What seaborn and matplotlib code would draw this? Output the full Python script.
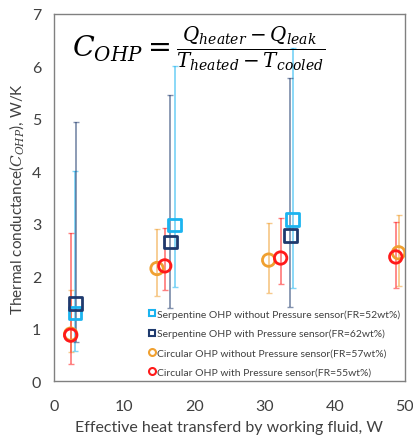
import pandas as pd
import matplotlib
matplotlib.use("Agg")
import matplotlib.pyplot as plt
import seaborn as sns

# ------------------------- DATA ------------------------- #
series_names = [
    "Serpentine OHP without Pressure sensor(FR=52wt%)",
    "Serpentine OHP with Pressure sensor(FR=62wt%)",
    "Circular OHP without Pressure sensor(FR=57wt%)",
    "Circular OHP with Pressure sensor(FR=55wt%)",
]
colors = ["#1BB4F0", "#1F3A6E", "#F0A030", "#FF1A1A"]
markers = ["s", "s", "o", "o"]

serp_wo_x = [3.0, 17.2, 34.0]
serp_wo_y = [1.30, 2.98, 3.08]
serp_wo_lo = [0.58, 1.80, 1.77]
serp_wo_hi = [4.00, 6.00, 6.35]

serp_w_x = [3.1, 16.6, 33.7]
serp_w_y = [1.48, 2.66, 2.78]
serp_w_lo = [0.75, 1.40, 1.41]
serp_w_hi = [4.94, 5.45, 5.77]

circ_wo_x = [2.4, 14.7, 30.6, 49.1]
circ_wo_y = [0.90, 2.15, 2.31, 2.45]
circ_wo_lo = [0.55, 1.62, 1.69, 1.82]
circ_wo_hi = [1.75, 2.91, 3.01, 3.17]

circ_w_x = [2.4, 15.8, 32.3, 48.7]
circ_w_y = [0.88, 2.20, 2.35, 2.37]
circ_w_lo = [0.34, 1.75, 1.86, 1.78]
circ_w_hi = [2.83, 2.93, 3.12, 3.04]

x_ticks = [0, 10, 20, 30, 40, 50]
y_ticks = [0, 1, 2, 3, 4, 5, 6, 7]

frames = []
for name, x, y, lo, hi in zip(
    series_names,
    [serp_wo_x, serp_w_x, circ_wo_x, circ_w_x],
    [serp_wo_y, serp_w_y, circ_wo_y, circ_w_y],
    [serp_wo_lo, serp_w_lo, circ_wo_lo, circ_w_lo],
    [serp_wo_hi, serp_w_hi, circ_wo_hi, circ_w_hi],
):
    frames.append(pd.DataFrame({"series": name, "x": x, "y": y, "lo": lo, "hi": hi}))
df = pd.concat(frames, ignore_index=True)

# ------------------------- PLOT ------------------------- #
sns.set_theme(style="white")
plt.rcParams["font.family"] = ["Lato", "DejaVu Sans"]
plt.rcParams["mathtext.fontset"] = "dejavuserif"

fig = plt.figure(figsize=(4.14, 4.39), dpi=100)
ax = fig.add_axes([0.130, 0.129, 0.848, 0.837])

handles = []
for name, color, marker in zip(series_names, colors, markers):
    sub = df[df["series"] == name]
    ax.errorbar(sub["x"], sub["y"],
                yerr=[sub["y"] - sub["lo"], sub["hi"] - sub["y"]],
                fmt="none", ecolor=color, elinewidth=1.3, capsize=2,
                capthick=1.0, alpha=0.55, zorder=2)
    sns.scatterplot(data=sub, x="x", y="y", marker=marker, s=80,
                    facecolor="none", edgecolor=color, linewidth=2,
                    ax=ax, zorder=3, legend=False)
    handles.append(plt.Line2D([], [], ls="none", marker=marker, ms=5,
                              mfc="none", mec=color, mew=1.5, label=name))

ax.set_xlim(0, 50)
ax.set_ylim(0, 7)
ax.set_xticks(x_ticks)
ax.set_yticks(y_ticks)
ax.tick_params(axis="both", direction="in", length=4, width=0.8,
               colors="#404040", labelsize=11.5, labelcolor="#404040")
ax.tick_params(axis="y", pad=9)
ax.tick_params(axis="x", pad=13)
for sp in ax.spines.values():
    sp.set_color("#808080")
    sp.set_linewidth(1.0)

ax.set_xlabel("Effective heat transferd by working fluid, W", fontsize=11.5,
              color="#404040", labelpad=5)
ax.set_ylabel(r"Thermal conductance($C_{OHP}$), W/K", fontsize=11,
              color="#404040", labelpad=4)

ax.text(0.052, 0.905,
        r"$C_{OHP}=\frac{Q_{heater}-Q_{leak}}{T_{heated}-T_{cooled}}$",
        transform=ax.transAxes, fontsize=20.5, va="center", ha="left",
        color="black")

leg = ax.legend(handles=handles, loc="lower right", bbox_to_anchor=(1.0, 0.0),
                frameon=False, fontsize=7.5, handlelength=0.6, handletextpad=0.2,
                labelspacing=0.95, borderaxespad=0.05)
for t in leg.get_texts():
    t.set_color("#404040")

fig.savefig("out.png", dpi=100)
